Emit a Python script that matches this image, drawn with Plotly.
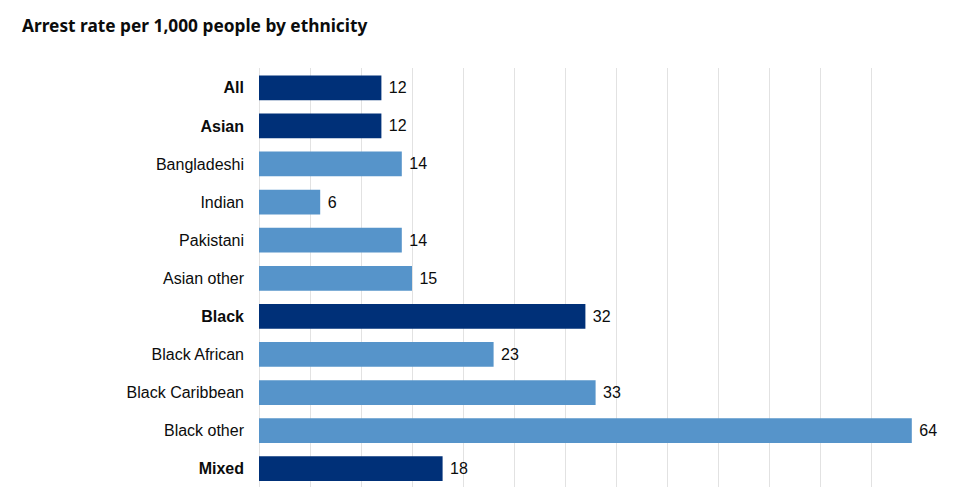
import plotly.graph_objects as go

categories = ["All", "Asian", "Bangladeshi", "Indian", "Pakistani", "Asian other",
              "Black", "Black African", "Black Caribbean", "Black other", "Mixed"]
values = [12, 12, 14, 6, 14, 15, 32, 23, 33, 64, 18]
is_group = [True, True, False, False, False, False, True, False, False, False, True]

DARK = "#003078"
LIGHT = "#5694ca"

labels = [f"<b>{c}</b>" if g else c for c, g in zip(categories, is_group)]
colors = [DARK if g else LIGHT for g in is_group]

fig = go.Figure(go.Bar(
    x=values,
    y=labels,
    orientation="h",
    marker=dict(color=colors, line=dict(width=0)),
    width=0.65,
    text=[f"\u00a0{v}" for v in values],
    textposition="outside",
    textfont=dict(family="Liberation Sans, Arial, sans-serif", size=16, color="#0b0c0c"),
    cliponaxis=False,
    hoverinfo="x+y",
))

# page body has an 8px margin, so figure coordinates are offset by 8px
fig.update_layout(
    width=946,
    height=479,
    margin=dict(l=251, r=32, t=60, b=0),
    plot_bgcolor="white",
    paper_bgcolor="white",
    showlegend=False,
    title=dict(
        text="<b>Arrest rate per 1,000 people by ethnicity</b>",
        x=14 / 946, xanchor="left", xref="container",
        y=1 - 18 / 479, yanchor="middle", yref="container",
        font=dict(family="Noto Sans, sans-serif", size=17.3, color="#0b0c0c"),
    ),
    xaxis=dict(
        range=[0, 65],
        dtick=5,
        showticklabels=False,
        showgrid=True,
        gridcolor="#e2e2e2",
        gridwidth=1,
        zeroline=True,
        zerolinecolor="#e2e2e2",
        zerolinewidth=1,
        showline=False,
        fixedrange=True,
    ),
    yaxis=dict(
        categoryorder="array",
        categoryarray=labels,
        range=[10.48, -0.52],
        showgrid=False,
        zeroline=False,
        showline=False,
        ticks="",
        ticklabelstandoff=14,
        tickfont=dict(family="Liberation Sans, Arial, sans-serif", size=16, color="#0b0c0c"),
        fixedrange=True,
    ),
    bargap=0.35,
)

fig.write_html("out.html")
